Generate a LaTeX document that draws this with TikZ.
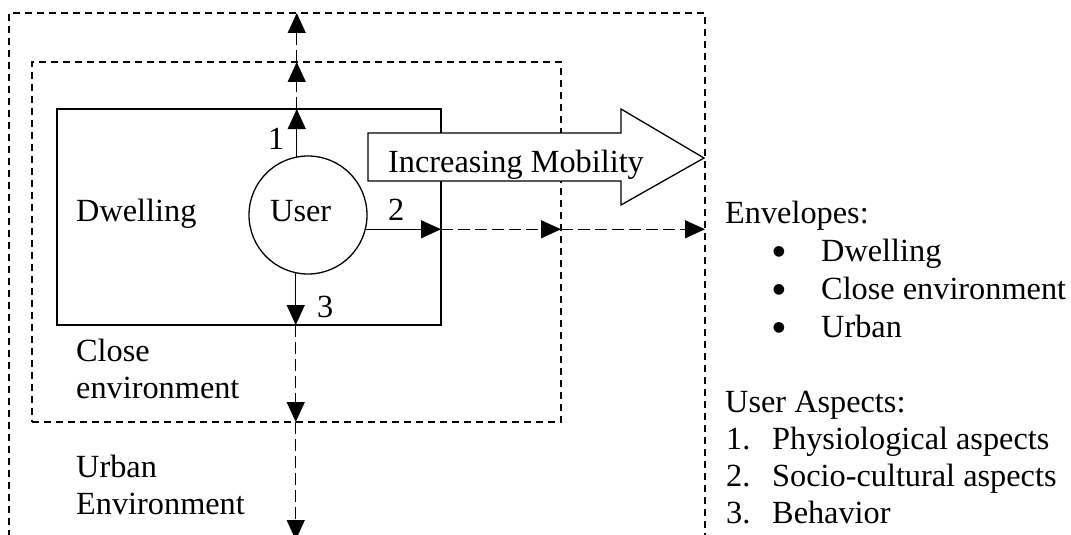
\documentclass[tikz,border=0pt]{standalone}
\usepackage{fontspec}
\setmainfont{Liberation Serif}
\newfontfamily\symfont{DejaVu Sans}
\usetikzlibrary{arrows.meta}
\begin{document}
\begin{tikzpicture}[x=1pt,y=-1pt,
  txt/.style={font=\fontsize{32.3pt}{38pt}\selectfont, inner sep=0pt, anchor=base west},
  bul/.style={font=\symfont\fontsize{14pt}{14pt}\selectfont, inner sep=0pt, anchor=center},
  envbox/.style={draw, dash pattern=on 7pt off 5pt, line width=1.6pt, inner sep=0pt, outer sep=0pt},
  solidbox/.style={draw, line width=1.3pt, inner sep=0pt, outer sep=0pt},
  arrowtip/.style={-{Triangle[length=20pt,width=18pt]}},
  solidarrow/.style={arrowtip, line width=1.3pt},
  dasharrow/.style={arrowtip, line width=1.3pt, dash pattern=on 12pt off 5pt},
]
\useasboundingbox (0,0) rectangle (1071,535);
\clip (0,0) rectangle (1071,535);

% envelopes
\node[envbox, minimum width=696pt, minimum height=527pt] (urban) at (357,276.5) {};
\node[envbox, minimum width=529pt, minimum height=360pt] (close) at (296.5,242) {};
\node[solidbox, minimum width=384pt, minimum height=216pt] (dwell) at (249,217) {};
\node[draw, circle, line width=1.3pt, minimum size=118pt, inner sep=0pt, outer sep=0pt] (user) at (308,215) {};

% big arrow
\draw[line width=1.3pt, fill=white] (368,133) -- (621,133) -- (621,109) -- (704,158)
  -- (621,205) -- (621,181) -- (368,181) -- cycle;
\node[txt] (mob) at (388,172) {Increasing Mobility};

% arrow 1 (up)
\draw[solidarrow] (user.101) -- (user.101 |- dwell.north) coordinate (u1);
\draw[dasharrow] (u1) -- (u1 |- close.north) coordinate (u2);
\draw[dasharrow] (u2) -- (u2 |- urban.north);
% arrow 2 (right)
\draw[solidarrow] (user.-14) -- (user.-14 -| dwell.east) coordinate (r1);
\draw[dasharrow] (r1) -- (r1 -| close.east) coordinate (r2);
\draw[dasharrow] (r2) -- (r2 -| urban.east);
% arrow 3 (down)
\draw[solidarrow] (user.-102) -- (user.-102 |- dwell.south) coordinate (d1);
\draw[dasharrow] (d1) -- (d1 |- close.south) coordinate (d2);
\draw[dasharrow] (d2) -- (d2 |- urban.south);

% labels
\node[txt] (n1) at (268,149) {1};
\node[txt] (n2) at (388,220) {2};
\node[txt] (n3) at (317,317) {3};
\node[txt] (usertxt) at (270,221) {User};
\node[txt] (dwelltxt) at (76,221) {Dwelling};
\node[txt] (close1) at (76,361) {Close};
\node[txt] (close2) at (76,398) {environment};
\node[txt] (urban1) at (76,477) {Urban};
\node[txt] (urban2) at (76,514) {Environment};

% legend
\node[txt] (env) at (725,223) {Envelopes:};
\node[bul] (b1) at (779,252) {●};
\node[bul] (b2) at (779,290) {●};
\node[bul] (b3) at (779,328) {●};
\node[txt] (e1) at (821,261) {Dwelling};
\node[txt] (e2) at (821,299) {Close environment};
\node[txt] (e3) at (821,337) {Urban};
\node[txt] (ua) at (725,412) {User Aspects:};
\node[txt] (k1) at (726,449) {1.};
\node[txt] (k2) at (726,486) {2.};
\node[txt] (k3) at (726,523) {3.};
\node[txt] (a1) at (772,449) {Physiological aspects};
\node[txt] (a2) at (772,486) {Socio-cultural aspects};
\node[txt] (a3) at (772,523) {Behavior};
\end{tikzpicture}
\end{document}
